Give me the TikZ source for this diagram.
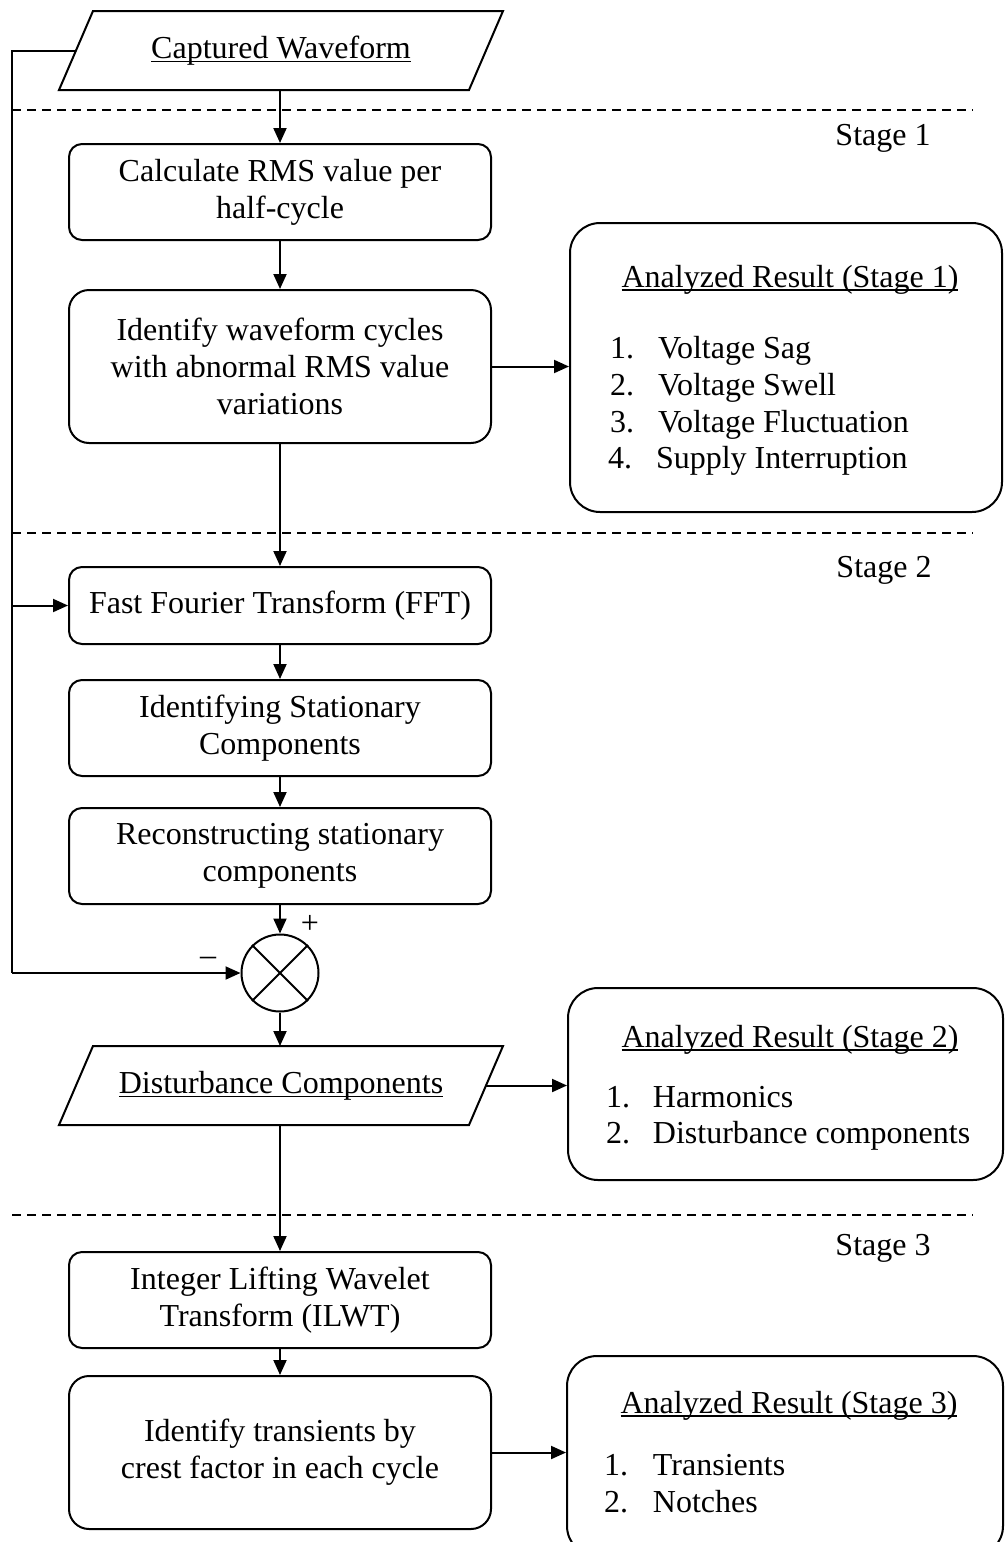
\documentclass[tikz,border=0pt]{standalone}
\usepackage{fontspec}
\setmainfont{Liberation Serif}
\usetikzlibrary{arrows.meta,calc}

% underline sitting close to the baseline
\newsavebox\ulbox
\newcommand\ulined[1]{\sbox\ulbox{#1}\rlap{\rule[-4pt]{\wd\ulbox}{1.6pt}}\usebox\ulbox}

\begin{document}
\begin{tikzpicture}[x=1pt,y=-1pt,line width=2pt,
  font=\fontsize{32}{37}\selectfont,
  procbox/.style={draw, rounded corners=13pt, minimum width=422pt, align=center, inner sep=2pt},
  tallbox/.style={procbox, rounded corners=20pt, minimum height=153pt},
  % data box: the node is the mid-height body, the slanted outline is drawn around it
  iobox/.style={minimum width=408pt, minimum height=77pt, inner sep=2pt},
  resultbox/.style={draw, rounded corners=30pt, inner sep=0pt},
  flow/.style={-{Triangle[length=15pt,width=13pt]}},
  stagesep/.style={line width=1.5pt, dash pattern=on 9pt off 6pt},
  txt/.style={inner sep=0pt},
]
\useasboundingbox (0,0) rectangle (1005,1542);
\clip (0,0) rectangle (1005,1542);

% stage separators and labels
\draw[stagesep] (12,110) -- (973,110);
\draw[stagesep] (12,533) -- (973,533);
\draw[stagesep] (12,1215) -- (973,1215);
\node[txt, anchor=base] (st1) at (883,145) {Stage 1};
\node[txt, anchor=base] (st2) at (884,577) {Stage 2};
\node[txt, anchor=base] (st3) at (883,1255) {Stage 3};

% main chain
\node[iobox] (cap) at (281,50.5) {\ulined{Captured Waveform}};
\draw ($(cap.south west)+(-17,0)$) -- ($(cap.north west)+(17,0)$)
   -- ($(cap.north east)+(17,0)$) -- ($(cap.south east)+(-17,0)$) -- cycle;
\node[procbox, minimum height=96pt] (rms) at (280,192) {Calculate RMS value per\\half-cycle};
\node[tallbox] (abn) at (280,366.5) {Identify waveform cycles\\with abnormal RMS value\\variations};
\node[procbox, minimum height=77pt] (fft) at (280,605.5) {Fast Fourier Transform (FFT)};
\node[procbox, minimum height=96pt] (ids) at (280,728) {Identifying Stationary\\Components};
\node[procbox, minimum height=96pt] (rec) at (280,856) {Reconstructing stationary\\components};
\node[draw, circle, minimum size=77pt, inner sep=0pt] (sum) at (280,973) {};
\draw (sum.north west) -- (sum.south east);
\draw (sum.north east) -- (sum.south west);
\node[txt] (plus) at (310,924) {+};
\node[txt] (minus) at (208,961) {–};
\node[iobox] (dist) at (281,1085.5) {\ulined{Disturbance Components}};
\draw ($(dist.south west)+(-17,0)$) -- ($(dist.north west)+(17,0)$)
   -- ($(dist.north east)+(17,0)$) -- ($(dist.south east)+(-17,0)$) -- cycle;
\node[procbox, minimum height=96pt] (ilwt) at (280,1300) {Integer Lifting Wavelet\\Transform (ILWT)};
\node[tallbox] (crest) at (280,1452.5) {Identify transients by\\crest factor in each cycle};

% result boxes
\node[resultbox, minimum width=432pt, minimum height=289pt] (res1) at (786,367.5) {};
\node[resultbox, minimum width=435pt, minimum height=192pt] (res2) at (785.5,1084) {};
\node[resultbox, minimum width=436pt, minimum height=200pt] (res3) at (785,1456) {};

\node[txt, anchor=base] (res1t) at (790,287) {\ulined{Analyzed Result (Stage 1)}};
\node[txt, anchor=base west] (res1a) at (609,358) {\makebox[48pt][l]{1.}Voltage Sag};
\node[txt, anchor=base west] (res1b) at (609,395) {\makebox[48pt][l]{2.}Voltage Swell};
\node[txt, anchor=base west] (res1c) at (609,432) {\makebox[48pt][l]{3.}Voltage Fluctuation};
\node[txt, anchor=base west] (res1d) at (607,468) {\makebox[48pt][l]{4.}Supply Interruption};

\node[txt, anchor=base] (res2t) at (790,1047) {\ulined{Analyzed Result (Stage 2)}};
\node[txt, anchor=base west] (res2a) at (605,1107) {\makebox[47pt][l]{1.}Harmonics};
\node[txt, anchor=base west] (res2b) at (605,1143) {\makebox[47pt][l]{2.}Disturbance components};

\node[txt, anchor=base] (res3t) at (789,1413) {\ulined{Analyzed Result (Stage 3)}};
\node[txt, anchor=base west] (res3a) at (603,1475) {\makebox[49pt][l]{1.}Transients};
\node[txt, anchor=base west] (res3b) at (603,1512) {\makebox[49pt][l]{2.}Notches};

% connectors
\draw[flow] (rms.north |- cap.south) -- (rms.north);
\draw[flow] (rms.south) -- (abn.north);
\draw[flow] (abn.south) -- (fft.north);
\draw[flow] (fft.south) -- (ids.north);
\draw[flow] (ids.south) -- (rec.north);
\draw[flow] (rec.south) -- (sum.north);
\draw[flow] (sum.south) -- (sum.south |- dist.north);
\draw[flow] (ilwt.north |- dist.south) -- (ilwt.north);
\draw[flow] (ilwt.south) -- (crest.north);
\draw[flow] (abn.east) -- (abn.east -| res1.west);
\draw[flow] (dist.east) -- (dist.east -| res2.west);
\draw[flow] (crest.east) -- (crest.east -| res3.west);

% feedback of the captured waveform
\coordinate (fbtop) at (12,50.5);
\coordinate (fbbot) at (12,973);
\draw (cap.west) -- (fbtop) -- (fbbot);
\draw[flow] (fbbot) -- (sum.west);
\draw[flow] (fbtop |- fft.west) -- (fft.west);
\end{tikzpicture}
\end{document}
